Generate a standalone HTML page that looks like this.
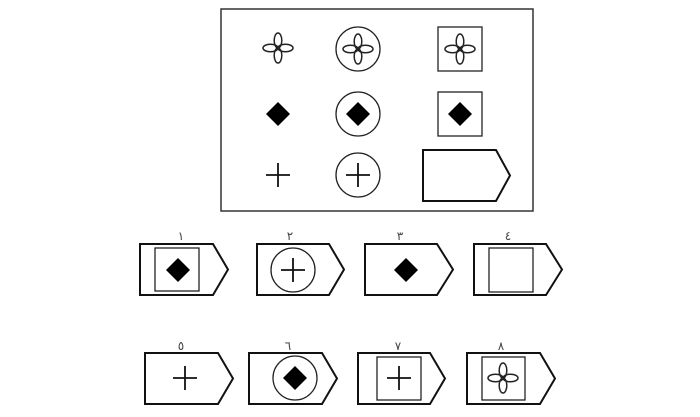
<!DOCTYPE html>
<html><head><meta charset="utf-8"><style>
html,body{margin:0;padding:0;background:#fff;width:700px;height:417px;overflow:hidden}
svg{display:block}
text{font-family:"Liberation Sans","DejaVu Sans",sans-serif;font-size:12px;fill:#444;text-anchor:middle}
</style></head><body>
<svg width="700" height="417" viewBox="0 0 700 417" xmlns="http://www.w3.org/2000/svg">
<defs>
<g id="fl" fill="none" stroke="#222" stroke-width="1.5">
<ellipse cx="0" cy="-7.5" rx="3.8" ry="7.5"/><ellipse cx="0" cy="7.5" rx="3.8" ry="7.5"/>
<ellipse cx="-7.5" cy="0" rx="7.5" ry="3.8"/><ellipse cx="7.5" cy="0" rx="7.5" ry="3.8"/>
</g>
<polygon id="dm" points="0,-12 12,0 0,12 -12,0" fill="#000"/>
<g id="pl" stroke="#111" stroke-width="1.8"><line x1="-12" y1="0" x2="12" y2="0"/><line x1="0" y1="-12" x2="0" y2="12"/></g>
</defs>
<rect x="221" y="9" width="312" height="202" fill="none" stroke="#333" stroke-width="1.5"/>
<g fill="none" stroke="#222" stroke-width="1.3">
<circle cx="358" cy="49" r="22"/><rect x="438" y="27" width="44" height="44"/>
<circle cx="358" cy="114" r="22"/><rect x="438" y="92" width="44" height="44"/>
<circle cx="358" cy="175" r="22"/>
</g>
<use href="#fl" x="278" y="48"/><use href="#fl" x="358" y="49"/><use href="#fl" x="460" y="49"/>
<use href="#dm" x="278" y="114"/><use href="#dm" x="358" y="114"/><use href="#dm" x="460" y="114"/>
<use href="#pl" x="278" y="175"/><use href="#pl" x="358" y="175"/>
<g fill="none" stroke="#111" stroke-width="2">
<polygon points="423,150 496,150 510,175.5 496,201 423,201"/>
<polygon points="140,244 213,244 228,269.5 213,295 140,295"/>
<polygon points="257,244 329,244 344,269.5 329,295 257,295"/>
<polygon points="365,244 437,244 453,269.5 437,295 365,295"/>
<polygon points="474,244 546,244 562,269.5 546,295 474,295"/>
<polygon points="145,353 218,353 233,378.5 218,404 145,404"/>
<polygon points="249,353 322,353 337,378.5 322,404 249,404"/>
<polygon points="358,353 430,353 445,378.5 430,404 358,404"/>
<polygon points="467,353 540,353 555,378.5 540,404 467,404"/>
</g>
<g fill="none" stroke="#222" stroke-width="1.3">
<rect x="155" y="248" width="44" height="43"/>
<circle cx="293" cy="270" r="22"/>
<rect x="489" y="248" width="44" height="44"/>
<circle cx="295" cy="378" r="22"/>
<rect x="377" y="357" width="44" height="43"/>
<rect x="482" y="357" width="43" height="43"/>
</g>
<use href="#dm" x="178" y="270"/>
<use href="#pl" x="293" y="270"/>
<use href="#dm" x="406" y="270"/>
<use href="#pl" x="185" y="378"/>
<use href="#dm" x="295" y="378"/>
<use href="#pl" x="399" y="378"/>
<use href="#fl" x="503" y="378"/>
<text x="181" y="240">١</text><text x="290" y="240">٢</text><text x="400" y="240">٣</text><text x="508" y="240">٤</text>
<text x="181" y="350">٥</text><text x="288" y="350">٦</text><text x="398" y="350">٧</text><text x="501" y="350">٨</text>
</svg>
</body></html>
